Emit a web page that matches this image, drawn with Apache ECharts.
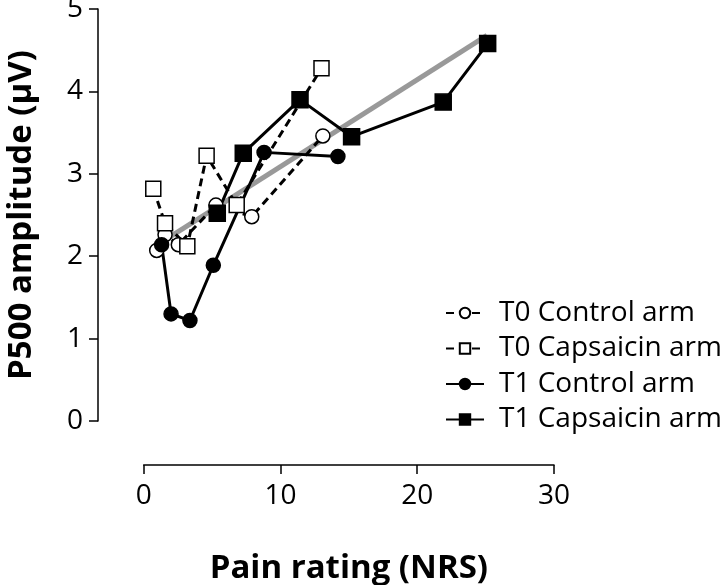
<!DOCTYPE html>
<html><head><meta charset="utf-8">
<script src="https://cdn.jsdelivr.net/npm/echarts@6/dist/echarts.min.js"></script>
<style>html,body{margin:0;padding:0;background:#fff}#c{width:720px;height:585px}</style>
</head><body><div id="c"></div>
<script>
const xTicks = [0, 10, 20, 30];
const yTicks = [0, 1, 2, 3, 4, 5];
const t0ControlX = [0.95, 1.56, 2.53, 5.28, 7.9, 13.1];
const t0ControlY = [2.07, 2.26, 2.14, 2.62, 2.48, 3.46];
const t0CapsX = [0.7, 1.56, 3.19, 4.6, 6.8, 13.0];
const t0CapsY = [2.82, 2.40, 2.12, 3.22, 2.62, 4.28];
const t1ControlX = [1.31, 2.0, 3.38, 5.09, 8.8, 14.2];
const t1ControlY = [2.14, 1.30, 1.22, 1.89, 3.26, 3.21];
const t1CapsX = [5.38, 7.28, 11.43, 15.2, 21.9, 25.15];
const t1CapsY = [2.52, 3.25, 3.90, 3.45, 3.87, 4.58];
const fitX = [1.4, 25.1];
const fitY = [2.18, 4.68];
const names = ['T0 Control arm', 'T0 Capsaicin arm', 'T1 Control arm', 'T1 Capsaicin arm'];

const zip = (xs, ys) => xs.map((x, i) => [x, ys[i]]);
const FONT = 'Open Sans';
const chart = echarts.init(document.getElementById('c'));
function mk(name, xs, ys, sym, open, dashed, size) {
  return {
    name, type: 'line', data: zip(xs, ys), symbol: sym, symbolSize: size,
    showSymbol: true, clip: false, z: 3,
    lineStyle: { color: '#000', width: 3, type: dashed ? [8, 5] : 'solid' },
    itemStyle: { color: open ? '#fff' : '#000', borderColor: '#000', borderWidth: 1.5, opacity: 1 },
    emphasis: { disabled: true }
  };
}
const axisCommon = {
  type: 'value',
  axisLine: { show: true, onZero: false, lineStyle: { color: '#000', width: 1.5 } },
  axisTick: { show: true, length: 9, lineStyle: { color: '#000', width: 1.5 } },
  splitLine: { show: false }
};
chart.setOption({
  animation: false,
  backgroundColor: '#fff',
  grid: { left: 143.7, right: 166, top: 9, bottom: 164, containLabel: false, outerBoundsMode: 'none' },
  xAxis: Object.assign({}, axisCommon, {
    min: xTicks[0], max: xTicks[xTicks.length - 1], interval: 10, offset: 44,
    axisLabel: { color: '#000', fontSize: 28, fontFamily: FONT, margin: 17 },
    name: 'Pain rating (NRS)', nameLocation: 'middle', nameGap: 87,
    nameTextStyle: { color: '#000', fontSize: 33, fontWeight: 'bold', fontFamily: FONT }
  }),
  yAxis: Object.assign({}, axisCommon, {
    min: yTicks[0], max: yTicks[yTicks.length - 1], interval: 1, offset: 45.7,
    axisLabel: { color: '#000', fontSize: 28, fontFamily: FONT, margin: 15 },
    name: 'P500 amplitude (\u03bcV)', nameLocation: 'middle', nameGap: 60,
    nameTextStyle: { color: '#000', fontSize: 33, fontWeight: 'bold', fontFamily: FONT }
  }),
  legend: {
    data: names, orient: 'vertical', left: 440, top: 294,
    itemWidth: 38, itemHeight: 13, itemGap: 7.5,
    textStyle: { color: '#000', fontSize: 28, fontFamily: FONT, padding: [0, 0, 0, 10] },
    inactiveColor: '#000'
  },
  series: [
    { name: 'fit', type: 'line', data: zip(fitX, fitY), symbol: 'none', z: 2,
      lineStyle: { color: '#999', width: 5 }, emphasis: { disabled: true } },
    mk(names[0], t0ControlX, t0ControlY, 'circle', true, true, 14),
    mk(names[1], t0CapsX, t0CapsY, 'rect', true, true, 15),
    mk(names[2], t1ControlX, t1ControlY, 'circle', false, false, 14),
    mk(names[3], t1CapsX, t1CapsY, 'rect', false, false, 16)
  ]
});
</script></body></html>
